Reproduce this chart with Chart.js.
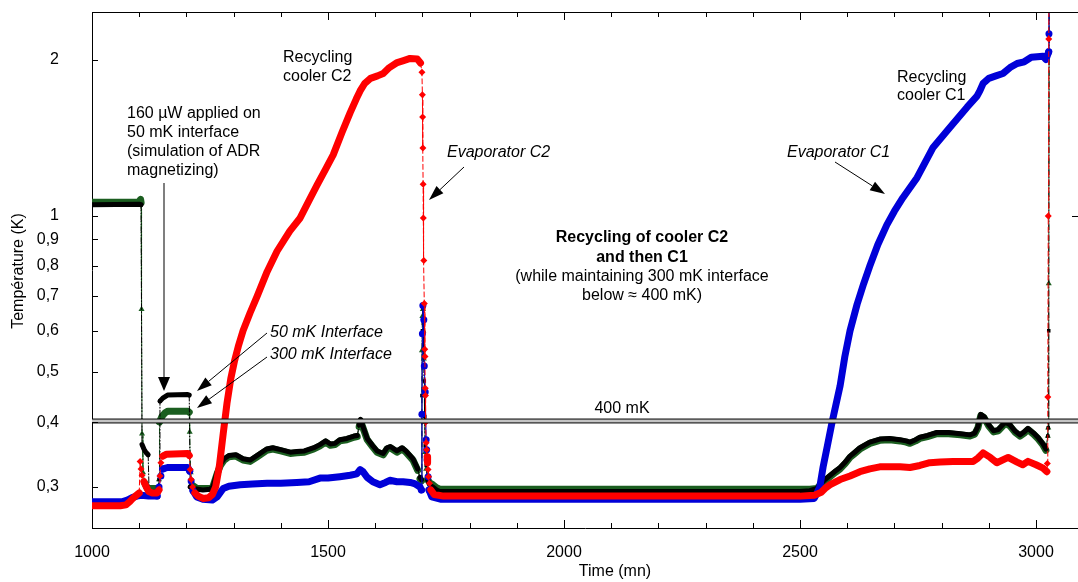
<!DOCTYPE html>
<html>
<head>
<meta charset="utf-8">
<script src="https://cdn.jsdelivr.net/npm/chart.js@4.4.1/dist/chart.umd.min.js"></script>
<style>
  html, body { margin: 0; padding: 0; background: #fff; }
  #wrap { width: 1078px; height: 582px; position: relative; }
</style>
</head>
<body>
<div id="wrap"><canvas id="tempChart"></canvas></div>
<script>
// axis ranges and ticks
var xMin = 1000, xMax = 3089;
var yMin = 0.25, yMax = 2.47;
var xTicks = [1000, 1500, 2000, 2500, 3000];
var yTicks = [0.3, 0.4, 0.5, 0.6, 0.7, 0.8, 0.9, 1, 2];
var limitLow = 0.3985, limitHigh = 0.4055;   // the "400 mK" double line

// [time (mn), temperature (K)]
var evapC2 = [[1000,0.276],[1060,0.276],[1072,0.277],[1080,0.281],[1088,0.286],[1096,0.290],[1100,0.292],
  [1102,0.336],[1104,0.325],[1106,0.316],[1110,0.307],[1115,0.300],[1120,0.294],[1128,0.292],[1138,0.292],
  [1142,0.296],[1144,0.315],[1146,0.334],[1150,0.344],[1158,0.347],[1203,0.348],[1206,0.345],[1208,0.324],
  [1210,0.310],[1213,0.300],[1218,0.292],[1225,0.288],[1235,0.285],[1247,0.286],[1255,0.290],[1262,0.300],
  [1270,0.330],[1278,0.380],[1286,0.435],[1294,0.485],[1302,0.525],[1310,0.560],[1320,0.600],[1335,0.650],
  [1350,0.700],[1371,0.780],[1392,0.854],[1419,0.934],[1441,0.990],[1460,1.07],[1477,1.147],[1495,1.23],
  [1511,1.31],[1530,1.45],[1547,1.58],[1560,1.68],[1568,1.74],[1578,1.80],[1590,1.84],[1605,1.86],[1617,1.88],
  [1630,1.93],[1645,1.97],[1660,1.99],[1674,2.01],[1689,2.006],[1696,1.97],[1699,1.89],
  [1700,1.71],[1700.5,1.55],[1701,1.35],[1701.5,1.15],[1702,0.99],[1703,0.82],[1704,0.677],[1705,0.553],
  [1705.5,0.535],[1706,0.465],[1706.5,0.45],[1707,0.40],[1708,0.365],[1709,0.354],[1710,0.343],[1711,0.334],
  [1712,0.324],[1713,0.314],[1715,0.305],[1718,0.296],[1725,0.290],[1745,0.288],[2458,0.288],[2500,0.288],
  [2530,0.289],[2545,0.293],[2553,0.298],[2564,0.303],[2585,0.310],[2606,0.315],[2627,0.321],[2648,0.325],
  [2669,0.328],[2712,0.328],[2733,0.327],[2754,0.330],[2775,0.334],[2797,0.335],[2824,0.336],[2867,0.336],
  [2877,0.341],[2888,0.349],[2903,0.342],[2917,0.334],[2941,0.342],[2960,0.335],[2972,0.331],[2983,0.336],
  [3000,0.331],[3015,0.326],[3023,0.321],[3024,0.333],[3025,0.447],[3026,0.999],[3027,2.19],[3028,3.2]];

var evapC1 = [[1000,0.281],[1065,0.281],[1075,0.283],[1085,0.286],[1095,0.288],[1105,0.289],[1120,0.288],
  [1138,0.288],[1142,0.300],[1146,0.315],[1150,0.325],[1160,0.327],[1203,0.327],[1207,0.322],[1210,0.308],
  [1214,0.295],[1222,0.287],[1235,0.284],[1255,0.283],[1265,0.287],[1278,0.298],[1290,0.301],[1314,0.303],
  [1340,0.304],[1371,0.305],[1400,0.305],[1434,0.306],[1460,0.307],[1483,0.312],[1500,0.312],[1525,0.314],
  [1547,0.316],[1561,0.318],[1568,0.324],[1574,0.321],[1583,0.313],[1595,0.307],[1610,0.303],[1622,0.306],
  [1631,0.309],[1646,0.307],[1659,0.307],[1674,0.306],[1685,0.304],[1695,0.300],[1698,0.296],
  [1699,0.414],[1700,0.592],[1701,0.671],[1703,0.630],[1704,0.513],[1706,0.457],[1708,0.370],[1709,0.354],
  [1710,0.338],[1712,0.314],[1714,0.296],[1720,0.287],[1740,0.284],[2500,0.284],[2530,0.285],[2536,0.292],
  [2542,0.300],[2549,0.328],[2558,0.360],[2568,0.400],[2585,0.470],[2595,0.535],[2606,0.600],[2621,0.675],
  [2635,0.740],[2648,0.800],[2665,0.880],[2684,0.960],[2700,1.020],[2718,1.083],[2748,1.184],[2782,1.354],
  [2818,1.481],[2854,1.619],[2875,1.70],[2881,1.74],[2888,1.80],[2900,1.84],[2915,1.86],[2930,1.88],
  [2945,1.93],[2960,1.965],[2975,1.98],[2990,2.02],[3015,2.03],[3021,2.00],[3027,2.07],[3027.5,2.243],[3028,3.2]];

var iface50 = [[1000,1.050],[1100,1.052],[1104,1.050],[1106,0.362],[1110,0.355],[1114,0.350],[1119,0.346],
  [1121,0.293],[1140,0.293],[1142,0.310],[1144,0.439],[1150,0.445],[1160,0.451],[1203,0.452],[1206,0.451],
  [1208,0.300],[1214,0.298],[1235,0.296],[1250,0.297],[1256,0.300],[1265,0.320],[1272,0.332],[1280,0.340],
  [1290,0.345],[1305,0.346],[1320,0.340],[1335,0.338],[1350,0.345],[1370,0.355],[1383,0.357],[1400,0.354],
  [1420,0.350],[1434,0.351],[1450,0.352],[1470,0.357],[1483,0.362],[1495,0.368],[1505,0.363],[1515,0.364],
  [1525,0.370],[1540,0.372],[1555,0.376],[1562,0.377],[1566,0.395],[1569,0.405],[1575,0.390],[1583,0.372],
  [1595,0.360],[1604,0.352],[1617,0.348],[1625,0.357],[1632,0.359],[1646,0.352],[1657,0.357],[1665,0.352],
  [1680,0.340],[1690,0.325],[1695,0.313],[1698,0.310],[1699,0.450],[1700,0.600],[1701,0.665],[1702,0.620],
  [1703,0.550],[1704,0.480],[1705,0.410],[1706,0.360],[1708,0.330],[1711,0.310],[1716,0.302],[1722,0.300],
  [1730,0.296],[1737,0.294],[2500,0.294],[2521,0.295],[2536,0.298],[2542,0.303],[2553,0.310],[2564,0.316],
  [2575,0.322],[2585,0.327],[2596,0.335],[2606,0.344],[2616,0.350],[2627,0.357],[2648,0.366],[2669,0.371],
  [2690,0.372],[2712,0.370],[2725,0.368],[2733,0.366],[2745,0.370],[2754,0.374],[2770,0.377],[2790,0.382],
  [2815,0.382],[2840,0.380],[2860,0.378],[2870,0.381],[2877,0.392],[2883,0.414],[2890,0.410],[2900,0.395],
  [2910,0.385],[2920,0.387],[2935,0.400],[2945,0.395],[2955,0.385],[2966,0.378],[2975,0.383],[2983,0.389],
  [2995,0.381],[3005,0.373],[3015,0.363],[3021,0.355],[3025,0.376],[3026,0.390],[3027,0.600],[3028,3.2]];

var iface300 = [[1000,1.062],[1095,1.062],[1100,1.066],[1103,1.075],[1104,1.060],[1105,0.660],[1106,0.380],
  [1108,0.320],[1112,0.305],[1117,0.298],[1140,0.298],[1142,0.310],[1143,0.400],[1148,0.410],[1155,0.417],
  [1161,0.420],[1203,0.420],[1206,0.418],[1207,0.383],[1209,0.320],[1213,0.302],[1222,0.298],[1250,0.298],
  [1256,0.300],[1265,0.318],[1272,0.330],[1280,0.338],[1290,0.343],[1305,0.344],[1320,0.338],[1335,0.336],
  [1350,0.343],[1370,0.353],[1383,0.355],[1400,0.352],[1420,0.348],[1434,0.349],[1450,0.350],[1470,0.355],
  [1483,0.360],[1495,0.366],[1505,0.361],[1515,0.362],[1525,0.368],[1540,0.370],[1555,0.374],[1562,0.375],
  [1566,0.392],[1569,0.402],[1575,0.388],[1583,0.370],[1595,0.358],[1604,0.350],[1617,0.346],[1625,0.355],
  [1632,0.357],[1646,0.350],[1657,0.355],[1665,0.350],[1680,0.338],[1690,0.323],[1695,0.311],[1698,0.308],
  [1699,0.550],[1700,0.640],[1701,0.660],[1702,0.600],[1703,0.530],[1704,0.450],[1705,0.400],[1706,0.350],
  [1708,0.325],[1711,0.310],[1716,0.305],[1722,0.303],[1730,0.299],[1737,0.297],[2500,0.297],[2521,0.297],
  [2536,0.298],[2542,0.302],[2553,0.308],[2564,0.314],[2575,0.320],[2585,0.325],[2596,0.333],[2606,0.342],
  [2616,0.348],[2627,0.355],[2648,0.364],[2669,0.369],[2690,0.370],[2712,0.368],[2725,0.366],[2733,0.364],
  [2745,0.368],[2754,0.372],[2770,0.375],[2790,0.380],[2815,0.380],[2840,0.378],[2860,0.376],[2870,0.379],
  [2877,0.390],[2883,0.412],[2890,0.408],[2900,0.393],[2910,0.383],[2920,0.385],[2935,0.398],[2945,0.393],
  [2955,0.383],[2966,0.376],[2975,0.381],[2983,0.387],[2995,0.379],[3005,0.371],[3015,0.361],[3021,0.353],
  [3025,0.376],[3026,0.390],[3027,0.740],[3028,3.2]];

var FONT = '"Liberation Sans", Arial, Helvetica, sans-serif';
Chart.defaults.font.family = FONT;
Chart.defaults.font.size = 16;
Chart.defaults.color = '#000';

// a near-vertical step between two samples is drawn thin with markers
function steep(x0, y0, x1, y1) {
  return Math.abs(x1 - x0) < 2.5 && Math.abs(y1 - y0) > 6;
}
function steepIdx(chart, data, a, b) {
  var xs = chart.scales.x, ys = chart.scales.y;
  return steep(xs.getPixelForValue(data[a].x), ys.getPixelForValue(data[a].y),
               xs.getPixelForValue(data[b].x), ys.getPixelForValue(data[b].y));
}

function series(label, pts, color, width, dash, marker, radius, order) {
  return {
    label: label,
    data: pts.map(function (p) { return { x: p[0], y: p[1] }; }),
    order: order,
    borderColor: color,
    backgroundColor: color,
    borderWidth: width,
    borderCapStyle: 'round',
    borderJoinStyle: 'round',
    tension: 0,
    fill: false,
    pointStyle: marker,
    pointBorderWidth: 0,
    pointBackgroundColor: color,
    pointRadius: function (c) {
      if (c.type !== 'data') return 0;
      var d = c.dataset.data, i = c.dataIndex;
      var near = (i > 0 && steepIdx(c.chart, d, i - 1, i)) ||
                 (i < d.length - 1 && steepIdx(c.chart, d, i, i + 1));
      return near ? radius : 0;
    },
    segment: {
      borderWidth: function (c) { return steep(c.p0.x, c.p0.y, c.p1.x, c.p1.y) ? 1 : undefined; },
      borderDash: function (c) { return steep(c.p0.x, c.p0.y, c.p1.x, c.p1.y) ? dash : undefined; }
    }
  };
}

var notes = [
  ['Recycling', 283, 62, '', 'left'], ['cooler C2', 283, 81, '', 'left'],
  ['160 µW applied on', 127, 118, '', 'left'], ['50 mK interface', 127, 137, '', 'left'],
  ['(simulation of ADR', 127, 156, '', 'left'], ['magnetizing)', 127, 175, '', 'left'],
  ['50 mK Interface', 270, 337, 'italic ', 'left'], ['300 mK Interface', 270, 359, 'italic ', 'left'],
  ['Evaporator C2', 447, 157, 'italic ', 'left'], ['Evaporator C1', 787, 157, 'italic ', 'left'],
  ['Recycling', 897, 82, '', 'left'], ['cooler C1', 897, 100, '', 'left'],
  ['Recycling of cooler C2', 642, 242, 'bold ', 'center'], ['and then C1', 642, 262, 'bold ', 'center'],
  ['(while maintaining 300 mK interface', 642, 281, '', 'center'], ['below ≈ 400 mK)', 642, 300, '', 'center'],
  ['400 mK', 622, 413, '', 'center']
];

function arrow(ctx, x0, y0, x1, y1, lineColor, lineW, headLen, headHalf) {
  var a = Math.atan2(y1 - y0, x1 - x0);
  var bx = x1 - headLen * Math.cos(a), by = y1 - headLen * Math.sin(a);
  ctx.strokeStyle = lineColor;
  ctx.lineWidth = lineW;
  ctx.beginPath(); ctx.moveTo(x0, y0); ctx.lineTo(bx, by); ctx.stroke();
  ctx.fillStyle = '#000';
  ctx.beginPath();
  ctx.moveTo(x1, y1);
  ctx.lineTo(bx + headHalf * Math.sin(a), by - headHalf * Math.cos(a));
  ctx.lineTo(bx - headHalf * Math.sin(a), by + headHalf * Math.cos(a));
  ctx.closePath();
  ctx.fill();
}

var decorations = {
  id: 'decorations',
  afterDraw: function (chart) {
    var ctx = chart.ctx, a = chart.chartArea;
    var xs = chart.scales.x, ys = chart.scales.y;
    ctx.save();
    // top frame line
    ctx.strokeStyle = '#000';
    ctx.lineWidth = 1;
    ctx.beginPath(); ctx.moveTo(a.left, a.top + 0.5); ctx.lineTo(a.right, a.top + 0.5); ctx.stroke();
    // inward ticks
    ctx.beginPath();
    for (var v = xMin; v <= 3000; v += 100) {
      var px = Math.round(xs.getPixelForValue(v)) + 0.5;
      var len = (v % 500 === 0) ? 8 : 5;
      ctx.moveTo(px, a.bottom); ctx.lineTo(px, a.bottom - len);
      ctx.moveTo(px, a.top); ctx.lineTo(px, a.top + len);
    }
    yTicks.forEach(function (t) {
      var py = Math.round(ys.getPixelForValue(t)) + 0.5;
      ctx.moveTo(a.left, py); ctx.lineTo(a.left + 6, py);
      if (t === 1) { ctx.moveTo(a.right, py); ctx.lineTo(a.right - 6, py); }
    });
    ctx.stroke();

    // axis titles
    ctx.fillStyle = '#000';
    ctx.font = '16px ' + FONT;
    ctx.textAlign = 'center';
    ctx.textBaseline = 'alphabetic';
    ctx.fillText('Time (mn)', 615, 576);
    ctx.save();
    ctx.translate(19, 271);
    ctx.rotate(-Math.PI / 2);
    ctx.textBaseline = 'middle';
    ctx.fillText('Température (K)', 0, 0);
    ctx.restore();

    // annotations
    notes.forEach(function (n) {
      ctx.font = n[3] + '16px ' + FONT;
      ctx.textAlign = n[4];
      ctx.fillText(n[0], n[1], n[2]);
    });
    arrow(ctx, 164, 183, 164, 391, '#7f7f7f', 2, 14, 6);
    arrow(ctx, 267, 333, 197, 391, '#000', 1, 15, 5);
    arrow(ctx, 267, 357, 197, 408, '#000', 1, 15, 5);
    arrow(ctx, 464, 167, 429, 200, '#000', 1, 15, 5);
    arrow(ctx, 835, 162, 885, 194, '#000', 1, 15, 5);
    ctx.restore();
  }
};

new Chart(document.getElementById('tempChart'), {
  type: 'line',
  data: {
    datasets: [
      { label: '400 mK low', data: [{ x: xMin, y: limitLow }, { x: xMax, y: limitLow }],
        borderColor: '#000', borderWidth: 1, pointRadius: 0, fill: false, order: 0 },
      { label: '400 mK high', data: [{ x: xMin, y: limitHigh }, { x: xMax, y: limitHigh }],
        borderColor: '#000', borderWidth: 1, pointRadius: 0, fill: '-1',
        backgroundColor: '#c4c4c4', order: 0 },
      series('Evaporator C2', evapC2, '#ff0000', 7, [5, 3], 'rectRot', 3.5, 1),
      series('Evaporator C1', evapC1, '#0000d8', 7, [], 'circle', 3.5, 2),
      series('50 mK interface', iface50, '#000000', 5, [6, 2, 1, 2], 'rect', 2.5, 3),
      series('300 mK interface', iface300, '#1b5e20', 7, [6, 2, 1, 2], 'triangle', 3.5, 4)
    ]
  },
  options: {
    responsive: true,
    maintainAspectRatio: false,
    animation: false,
    layout: { padding: { top: 12, right: 0, left: 0, bottom: 0 } },
    plugins: { legend: { display: false }, tooltip: { enabled: false } },
    scales: {
      x: {
        type: 'linear', min: xMin, max: xMax,
        grid: { display: false },
        border: { display: true, color: '#000', width: 1 },
        afterBuildTicks: function (s) { s.ticks = xTicks.map(function (v) { return { value: v }; }); },
        afterFit: function (s) { s.height = 54; s.paddingLeft = 0; s.paddingRight = 0; s.paddingTop = 0; s.paddingBottom = 0; },
        ticks: { padding: 7, maxRotation: 0, autoSkip: false,
                 callback: function (v) { return String(v); } }
      },
      y: {
        type: 'logarithmic', min: yMin, max: yMax,
        grid: { display: false },
        border: { display: true, color: '#000', width: 1 },
        afterBuildTicks: function (s) { s.ticks = yTicks.map(function (v) { return { value: v }; }); },
        afterFit: function (s) { s.width = 92; s.paddingLeft = 0; s.paddingRight = 0; s.paddingTop = 0; s.paddingBottom = 0; },
        ticks: { padding: 25, autoSkip: false,
                 callback: function (v) { return String(v).replace('.', ','); } }
      }
    }
  },
  plugins: [decorations]
});
</script>
</body>
</html>
